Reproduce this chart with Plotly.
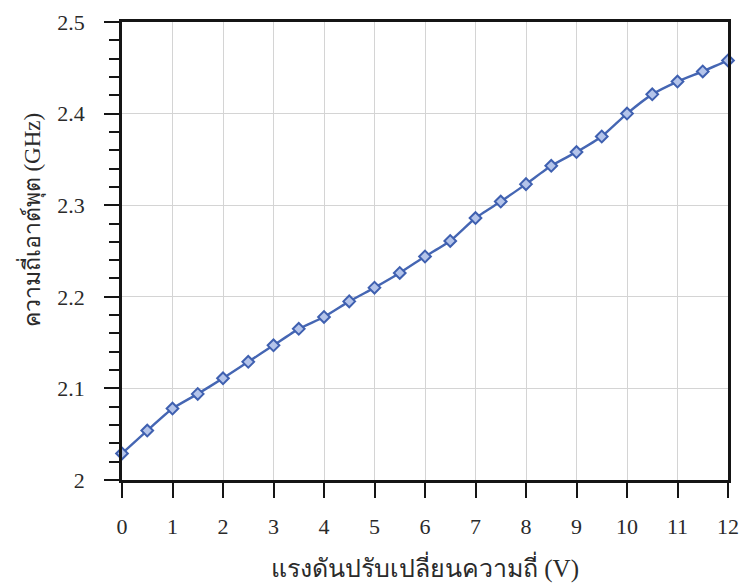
import plotly.graph_objects as go

voltage = [0, 0.5, 1, 1.5, 2, 2.5, 3, 3.5, 4, 4.5, 5, 5.5, 6, 6.5, 7, 7.5, 8, 8.5, 9, 9.5, 10, 10.5, 11, 11.5, 12]
freq_ghz = [2.029, 2.054, 2.078, 2.094, 2.111, 2.129, 2.147, 2.165, 2.178, 2.195, 2.210, 2.226, 2.244, 2.261, 2.286,
            2.304, 2.323, 2.343, 2.358, 2.375, 2.400, 2.421, 2.435, 2.446, 2.458]

x_title = "แรงดันปรับเปลี่ยนความถี่ (V)"
y_title = "ความถี่เอาต์พุต (GHz)"
y_tickvals = [2.0, 2.1, 2.2, 2.3, 2.4, 2.5]
y_ticktext = ["2", "2.1", "2.2", "2.3", "2.4", "2.5"]

font_fam = "Liberation Serif, Times New Roman, serif"
txt_col = "#2a2a2a"

fig = go.Figure()
fig.add_trace(go.Scatter(
    x=voltage, y=freq_ghz, mode="lines+markers",
    line=dict(color="#4566b3", width=2.4, shape="spline", smoothing=0.5),
    marker=dict(symbol="diamond", size=9, color="#b4c4ea",
                line=dict(color="#3f60b0", width=2)),
    showlegend=False, cliponaxis=False,
))

fig.update_layout(
    width=740, height=583,
    margin=dict(l=122, r=12, t=22, b=103),
    paper_bgcolor="white", plot_bgcolor="white",
    font=dict(family=font_fam, color=txt_col, size=22),
    annotations=[dict(
        text=y_title, textangle=-90, xref="paper", yref="paper",
        x=-0.151, y=0.568, xanchor="center", yanchor="middle", showarrow=False,
        font=dict(family=font_fam, size=23, color=txt_col),
    )],
)
fig.update_xaxes(
    range=[0, 12], tickmode="linear", tick0=0, dtick=1,
    showline=True, linecolor="#151515", linewidth=2.5, mirror=True,
    ticks="outside", ticklen=15, tickwidth=2, tickcolor="#151515",
    ticklabelstandoff=10, ticklabeloverflow="allow",
    showgrid=True, gridcolor="#d4d4d4", gridwidth=1,
    tickfont=dict(family=font_fam, size=22, color=txt_col),
    title=dict(text=x_title, font=dict(family=font_fam, size=25, color=txt_col), standoff=25),
    zeroline=False, automargin=False,
)
fig.update_yaxes(
    range=[2.0, 2.5], tickvals=y_tickvals, ticktext=y_ticktext,
    showline=True, linecolor="#151515", linewidth=2.5, mirror=True,
    ticks="outside", ticklen=15, tickwidth=2, tickcolor="#151515",
    ticklabelstandoff=15,
    minor=dict(dtick=0.02, tick0=2.0, ticks="outside", ticklen=10, tickwidth=2, tickcolor="#151515", showgrid=False),
    showgrid=True, gridcolor="#d4d4d4", gridwidth=1,
    tickfont=dict(family=font_fam, size=22, color=txt_col),
    zeroline=False, automargin=False,
)

fig.write_html("out.html", config={"displayModeBar": False},
               post_script="document.body.style.margin='0';document.body.style.overflow='hidden';")
